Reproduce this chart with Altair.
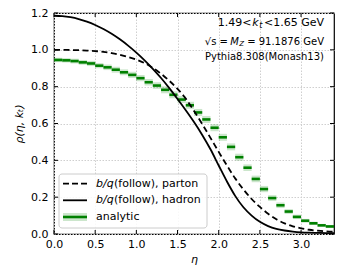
import altair as alt
import pandas as pd

# ---------------- data ----------------
bin_lo = [round(0.1 * i, 1) for i in range(34)]
bin_hi = [round(0.1 * (i + 1), 1) for i in range(34)]
analytic = [0.945, 0.943, 0.939, 0.932, 0.926, 0.914, 0.905, 0.892, 0.878, 0.864,
            0.846, 0.824, 0.806, 0.783, 0.756, 0.730, 0.699, 0.660, 0.622, 0.577,
            0.525, 0.473, 0.417, 0.360, 0.299, 0.244, 0.195, 0.156, 0.122, 0.093,
            0.072, 0.058, 0.047, 0.041]
analytic_err = [0.012, 0.012, 0.013, 0.013, 0.014, 0.014, 0.015, 0.016, 0.016, 0.017,
                0.017, 0.018, 0.018, 0.019, 0.019, 0.019, 0.019, 0.019, 0.019, 0.019,
                0.019, 0.019, 0.019, 0.018, 0.018, 0.017, 0.016, 0.015, 0.013, 0.012,
                0.010, 0.009, 0.008, 0.008]

eta_curve = [round(0.1 * i, 1) for i in range(35)]
hadron = [1.185, 1.183, 1.177, 1.167, 1.153, 1.135, 1.113, 1.087, 1.057, 1.023,
          0.985, 0.943, 0.897, 0.847, 0.792, 0.733, 0.672, 0.608, 0.538, 0.460,
          0.372, 0.285, 0.207, 0.145, 0.100, 0.066, 0.043, 0.028, 0.019, 0.013,
          0.009, 0.007, 0.006, 0.005, 0.005]
parton = [1.000, 1.000, 0.999, 0.998, 0.996, 0.993, 0.989, 0.982, 0.973, 0.961,
          0.947, 0.928, 0.902, 0.870, 0.832, 0.788, 0.735, 0.668, 0.597, 0.522,
          0.446, 0.372, 0.302, 0.242, 0.190, 0.147, 0.110, 0.080, 0.058, 0.042,
          0.031, 0.023, 0.018, 0.014, 0.012]

x_ticks = [0.0, 0.5, 1.0, 1.5, 2.0, 2.5, 3.0]
y_ticks = [0.0, 0.2, 0.4, 0.6, 0.8, 1.0, 1.2]

W, H = 280, 221
FONT = "DejaVu Sans"
GREEN = "#008000"

xs = alt.Scale(domain=[0, 3.4], nice=False, zero=False)
ys = alt.Scale(domain=[0, 1.2], nice=False)

bins_df = pd.DataFrame({
    "lo": bin_lo, "hi": bin_hi, "v": analytic,
    "vlo": [v - e for v, e in zip(analytic, analytic_err)],
    "vhi": [v + e for v, e in zip(analytic, analytic_err)],
})
curves_df = pd.DataFrame({"eta": eta_curve, "hadron": hadron, "parton": parton})
xt_df = pd.DataFrame({"t": x_ticks})
yt_df = pd.DataFrame({"t": y_ticks})

xaxis = alt.Axis(values=x_ticks, format=".1f", title="η", titleFontStyle="italic",
                 ticks=False, domain=False, labelPadding=4, titlePadding=4,
                 labelFlush=False, labelOverlap=False,
                 grid=True, gridDash=[1.5, 1.5], gridColor="#cfcfcf")
yaxis = alt.Axis(values=y_ticks, format=".1f", title="ρ(η, kₜ)", titleFontStyle="italic",
                 ticks=False, domain=False, labelPadding=6, titlePadding=6,
                 labelFlush=False, labelOverlap=False,
                 grid=True, gridDash=[1.5, 1.5], gridColor="#cfcfcf")


def X(f):
    return alt.X(f, scale=xs, axis=xaxis, title="η")


def Y(f):
    return alt.Y(f, scale=ys, axis=yaxis, title="ρ(η, kₜ)")


band = alt.Chart(bins_df).mark_rect(color=GREEN, opacity=0.2).encode(
    x=X("lo:Q"), x2="hi:Q", y=Y("vlo:Q"), y2="vhi:Q")
steps = alt.Chart(bins_df).mark_rule(color=GREEN, strokeWidth=2.6).encode(
    x=X("lo:Q"), x2="hi:Q", y=Y("v:Q"))
had_line = alt.Chart(curves_df).mark_line(color="black", strokeWidth=1.8,
                                          interpolate="monotone", clip=True).encode(
    x=X("eta:Q"), y=Y("hadron:Q"))
par_line = alt.Chart(curves_df).mark_line(color="black", strokeWidth=1.8, strokeDash=[6, 3.5],
                                          interpolate="monotone", clip=True).encode(
    x=X("eta:Q"), y=Y("parton:Q"))

# inside ticks on all four sides
tk = dict(color="black", strokeWidth=1)
xt_bot = alt.Chart(xt_df).mark_rule(**tk).encode(x=X("t:Q"), y=alt.value(H), y2=alt.value(H - 4))
xt_top = alt.Chart(xt_df).mark_rule(**tk).encode(x=X("t:Q"), y=alt.value(0), y2=alt.value(4))
yt_l = alt.Chart(yt_df).mark_rule(**tk).encode(y=Y("t:Q"), x=alt.value(0), x2=alt.value(4))
yt_r = alt.Chart(yt_df).mark_rule(**tk).encode(y=Y("t:Q"), x=alt.value(W), x2=alt.value(W - 4))

# legend (manual)
base = alt.Chart(pd.DataFrame({"a": [0]}))
LT = 161
leg_box = base.mark_rect(fill="white", fillOpacity=0.85, stroke="#cccccc", strokeWidth=1,
                         cornerRadius=3).encode(x=alt.value(5), x2=alt.value(153),
                                                y=alt.value(LT), y2=alt.value(LT + 54))
r1, r2, r3 = LT + 9.7, LT + 26.3, LT + 43
leg_l1 = base.mark_rule(color="black", strokeWidth=1.8, strokeDash=[6, 3]).encode(
    x=alt.value(9), x2=alt.value(33), y=alt.value(r1))
leg_l2 = base.mark_rule(color="black", strokeWidth=1.8).encode(
    x=alt.value(9), x2=alt.value(33), y=alt.value(r2))
leg_b3 = base.mark_rect(color=GREEN, opacity=0.2).encode(
    x=alt.value(9), x2=alt.value(33), y=alt.value(r3 - 4), y2=alt.value(r3 + 4))
leg_l3 = base.mark_rule(color=GREEN, strokeWidth=2.6).encode(
    x=alt.value(9), x2=alt.value(33), y=alt.value(r3))


def txt(s, x, y, size=11, align="left", style="normal", dy=0):
    return base.mark_text(text=s, font=FONT, fontSize=size, align=align, baseline="middle",
                          fontStyle=style, dy=dy, color="black").encode(
        x=alt.value(x), y=alt.value(y))


leg_t = [
    txt("b/q", 42, r1, style="italic"), txt("(follow), parton", 60, r1),
    txt("b/q", 42, r2, style="italic"), txt("(follow), hadron", 60, r2),
    txt("analytic", 42, r3),
]

a1, a2, a3 = 10, 28.7, 43.7
ann = [
    txt("<1.65 GeV", 270, a1, align="right"),
    txt("t", 208.5, a1, size=8, align="right", style="italic", dy=3),
    txt("k", 204.5, a1, align="right", style="italic"),
    txt("1.49<", 197.5, a1, align="right"),
    txt("= 91.1876 GeV", 270, a2, size=10, align="right"),
    txt("Z", 190, a2, size=7, align="right", style="italic", dy=2.5),
    txt("M", 185, a2, size=10, align="right", style="italic"),
    txt("√s =", 174, a2, size=10, align="right"),
    txt("Pythia8.308(Monash13)", 270, a3, size=10, align="right"),
]

chart = alt.layer(
    band, steps, par_line, had_line, xt_bot, xt_top, yt_l, yt_r,
    leg_box, leg_l1, leg_l2, leg_b3, leg_l3, *leg_t, *ann
).properties(
    width=W, height=H,
    autosize=alt.AutoSizeParams(type="none"),
    padding={"left": 46, "top": 5, "right": 10, "bottom": 32},
).configure_view(
    stroke="black", strokeWidth=1.2
).configure_axis(
    labelFont=FONT, titleFont=FONT, labelFontSize=11, titleFontSize=11,
    labelColor="black", titleColor="black", titleFontWeight="normal"
)

chart.save("out.html", embed_options={"renderer": "svg", "actions": False})
